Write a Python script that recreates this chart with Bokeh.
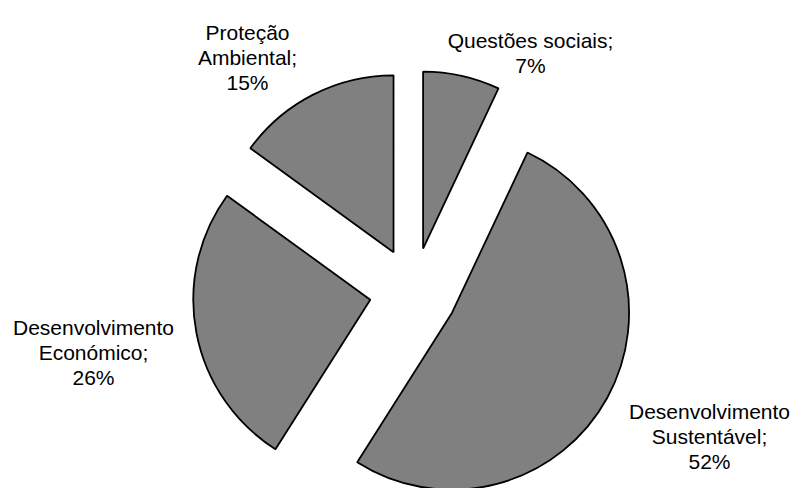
import math
from bokeh.plotting import figure
from bokeh.models import Range1d, ColumnDataSource
from bokeh.core.properties import value
from bokeh.embed import file_html
from bokeh.resources import INLINE

# ---- data ----
categories = ["Questões sociais", "Desenvolvimento Sustentável",
              "Desenvolvimento Económico", "Proteção Ambiental"]
values = [7, 52, 26, 15]
label_lines = [
    ["Questões sociais;", "7%"],
    ["Desenvolvimento", "Sustentável;", "52%"],
    ["Desenvolvimento", "Económico;", "26%"],
    ["Proteção", "Ambiental;", "15%"],
]

# ---- layout (pixels) ----
W, H = 791, 488
CX, CY = 413, 488 - 291      # pie centre in data units (1 unit = 1 px)
R = 177
EXPLODE = 44
LINE_H = 25
# label anchor: (centre x, first baseline y from top)
label_anchor = [(530, 40), (709, 411), (93, 327), (247, 32)]

total = float(sum(values))
xs, ys, starts, ends = [], [], [], []
cum = 0.0
for v in values:
    t1 = cum / total * 360.0          # clockwise from 12 o'clock
    t2 = (cum + v) / total * 360.0
    mid = (t1 + t2) / 2.0
    ma = math.radians(90.0 - mid)
    xs.append(CX + EXPLODE * math.cos(ma))
    ys.append(CY + EXPLODE * math.sin(ma))
    starts.append(math.radians(90.0 - t2))
    ends.append(math.radians(90.0 - t1))
    cum += v

src = ColumnDataSource(dict(x=xs, y=ys, start=starts, end=ends, cat=categories))

p = figure(width=W, height=H, x_range=Range1d(0, W), y_range=Range1d(0, H),
           output_backend="svg", toolbar_location=None,
           x_axis_location=None, y_axis_location=None, min_border=0)
p.grid.visible = False
p.outline_line_color = None
p.background_fill_color = "white"
p.border_fill_color = "white"

p.wedge(x="x", y="y", radius=R, start_angle="start", end_angle="end",
        source=src, fill_color="#808080", line_color="black", line_width=1.8)

tx, ty, tt = [], [], []
for lines, (ax, ay) in zip(label_lines, label_anchor):
    for i, ln in enumerate(lines):
        tx.append(ax)
        ty.append(H - (ay + i * LINE_H))
        tt.append(ln)

p.text(x=tx, y=ty, text=tt, text_font=value("Liberation Sans"),
       text_font_size="21px", text_align="center", text_baseline="alphabetic",
       text_color="black")

open("out.html", "w").write(file_html(p, INLINE))
